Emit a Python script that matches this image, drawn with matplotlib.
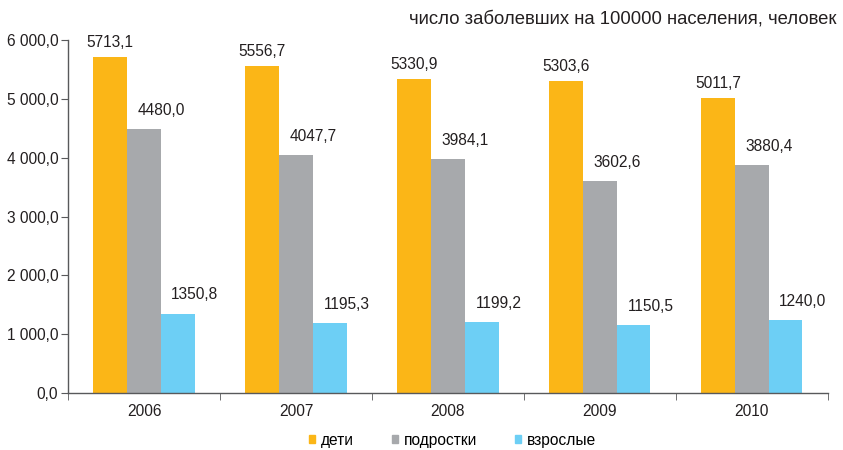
import numpy as np
import matplotlib.pyplot as plt
from matplotlib.patches import Patch

plt.rcParams['font.family'] = ['Liberation Sans', 'DejaVu Sans']

years = ["2006", "2007", "2008", "2009", "2010"]
deti = [5713.1, 5556.7, 5330.9, 5303.6, 5011.7]
podrostki = [4480.0, 4047.7, 3984.1, 3602.6, 3880.4]
vzroslye = [1350.8, 1195.3, 1199.2, 1150.5, 1240.0]
series_names = ["дети", "подростки", "взрослые"]
colors = ["#FBB617", "#A7A9AC", "#6DCFF5"]

fig = plt.figure(figsize=(8.43, 4.5), dpi=100)
ax = fig.add_axes([0.0807, 0.1267, 0.9013, 0.7843])

x = np.arange(len(years))
w = 0.222
for i, (vals, c) in enumerate(zip([deti, podrostki, vzroslye], colors)):
    pos = x + (i - 1) * w
    ax.bar(pos, vals, width=w, color=c, zorder=2)
    # labels of the 2nd and 3rd series sit over the right edge of their bar
    dx = 0 if i == 0 else w / 2
    dy = 5 if i == 0 else 8
    for p, v in zip(pos, vals):
        ax.annotate(f"{v:.1f}".replace(".", ","), (p + dx, v), xytext=(0, dy),
                    textcoords="offset points", ha="center", va="bottom",
                    fontsize=11.2, color="#231F20")

ax.set_xlim(-0.5, len(years) - 0.5)
ax.set_ylim(0, 6000)
ax.set_yticks(np.arange(0, 6001, 1000))
ax.set_yticklabels([f"{int(t):,}".replace(",", " ") + ",0" for t in np.arange(0, 6001, 1000)])
ax.set_xticks(x)
ax.set_xticklabels(years)
ax.set_xticks(np.arange(-0.5, len(years), 1), minor=True)
ax.tick_params(axis="x", which="major", length=0, pad=8)
ax.tick_params(axis="x", which="minor", length=5, direction="out", color="#58595B")
ax.tick_params(axis="y", length=5, color="#58595B", pad=2)
ax.tick_params(labelsize=11.2, labelcolor="#231F20")

for s in ["top", "right"]:
    ax.spines[s].set_visible(False)
for s in ["left", "bottom"]:
    ax.spines[s].set_color("#58595B")
    ax.spines[s].set_linewidth(1.0)

fig.text(0.992, 0.958, "число заболевших на 100000 населения, человек",
         ha="right", va="center", fontsize=13.3, color="#231F20")

handles = [Patch(color=c, label=n) for c, n in zip(colors, series_names)]
fig.legend(handles=handles, loc="center", bbox_to_anchor=(0.537, 0.022),
           ncol=3, frameon=False, fontsize=11.2, handlelength=0.4,
           handleheight=0.4, handletextpad=0.4, columnspacing=2.4)

fig.savefig("out.png", dpi=100)
